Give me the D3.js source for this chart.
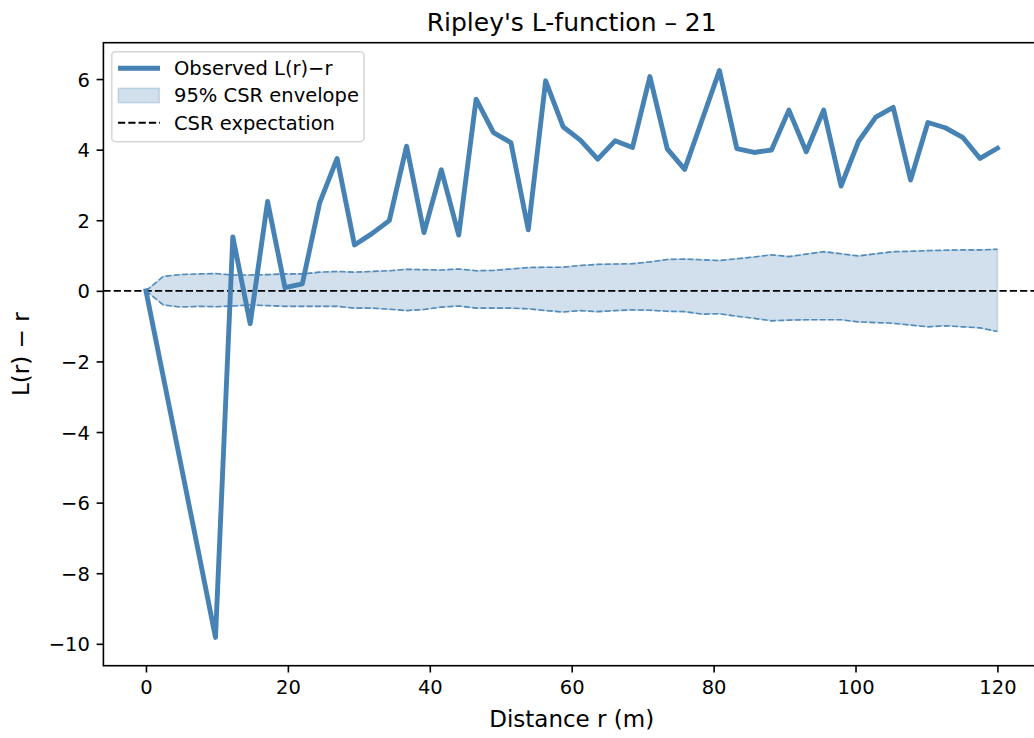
<!DOCTYPE html>
<html lang="en">
<head>
    <meta charset="UTF-8">
    <title>Ripley's L-function</title>
    <script src="https://d3js.org/d3.v7.min.js"></script>
    <style>
        body {background:#fff; margin:0}
        svg {display:block; font-family:"DejaVu Sans", sans-serif}
    </style>
</head>
<body>
<svg id="chart" width="1034" height="738"></svg>

<script>
// distance grid r (m), 50 steps from 0 to 120
var radii = [0, 2.45, 4.9, 7.35, 9.8, 12.24, 14.69, 17.14, 19.59, 22.04,
    24.49, 26.94, 29.39, 31.84, 34.29, 36.73, 39.18, 41.63, 44.08, 46.53,
    48.98, 51.43, 53.88, 56.33, 58.78, 61.22, 63.67, 66.12, 68.57, 71.02,
    73.47, 75.92, 78.37, 80.82, 83.27, 85.71, 88.16, 90.61, 93.06, 95.51,
    97.96, 100.41, 102.86, 105.31, 107.76, 110.2, 112.65, 115.1, 117.55, 120];

// observed L(r) - r
var observed = [0, -2.45, -4.9, -7.35, -9.82, 1.53, -0.93, 2.53, 0.09, 0.2,
    2.5, 3.75, 1.3, 1.62, 1.99, 4.1, 1.65, 3.43, 1.58, 5.43,
    4.48, 4.2, 1.73, 5.95, 4.65, 4.27, 3.73, 4.25, 4.06, 6.07,
    4.02, 3.44, 4.84, 6.24, 4.03, 3.92, 3.99, 5.12, 3.94, 5.12,
    2.97, 4.23, 4.92, 5.2, 3.14, 4.77, 4.62, 4.35, 3.75, 4.04];

// 95% CSR envelope
var envHigh = [0, 0.41, 0.46, 0.48, 0.49, 0.45, 0.45, 0.46, 0.48, 0.48,
    0.53, 0.55, 0.53, 0.55, 0.57, 0.61, 0.6, 0.59, 0.62, 0.57,
    0.58, 0.62, 0.66, 0.67, 0.67, 0.72, 0.75, 0.76, 0.77, 0.82,
    0.89, 0.9, 0.88, 0.86, 0.91, 0.96, 1.02, 0.97, 1.04, 1.11,
    1.05, 0.99, 1.05, 1.11, 1.12, 1.14, 1.15, 1.16, 1.16, 1.18];
var envLow = [0, -0.4, -0.46, -0.44, -0.45, -0.43, -0.4, -0.42, -0.44, -0.44,
    -0.44, -0.44, -0.49, -0.49, -0.52, -0.56, -0.53, -0.46, -0.43, -0.49,
    -0.49, -0.49, -0.51, -0.56, -0.6, -0.56, -0.59, -0.56, -0.54, -0.55,
    -0.58, -0.59, -0.66, -0.65, -0.72, -0.78, -0.85, -0.83, -0.82, -0.82,
    -0.82, -0.88, -0.9, -0.92, -0.97, -1.02, -0.99, -1.02, -1.05, -1.15];

var xTicks = [0, 20, 40, 60, 80, 100, 120];
var yTicks = [-10, -8, -6, -4, -2, 0, 2, 4, 6];
var legendLabels = ["Observed L(r)\u2212r", "95% CSR envelope", "CSR expectation"];

var blue = "#4682b4";
var plot = {left: 103.4, right: 1040, top: 42.7, bottom: 665.7};

var svg = d3.select("#chart");

var x = d3.scaleLinear().domain([-6, 126]).range([plot.left, plot.right]);
var y = d3.scaleLinear().domain([-10.62, 7.03]).range([plot.bottom, plot.top]);

svg.append("defs").append("clipPath").attr("id", "clip")
    .append("rect")
    .attr("x", plot.left).attr("y", plot.top)
    .attr("width", plot.right - plot.left).attr("height", plot.bottom - plot.top);

var rows = radii.map(function(r, i){
    return {r: r, obs: observed[i], hi: envHigh[i], lo: envLow[i]};
});

var g = svg.append("g").attr("clip-path", "url(#clip)");

// envelope fill
g.append("path")
    .datum(rows)
    .attr("d", d3.area()
        .x(function(d){ return x(d.r); })
        .y0(function(d){ return y(d.lo); })
        .y1(function(d){ return y(d.hi); }))
    .attr("fill", blue)
    .attr("fill-opacity", 0.25)
    .attr("stroke", blue)
    .attr("stroke-opacity", 0.25)
    .attr("stroke-width", 1.5);

// envelope edges
["hi", "lo"].forEach(function(k){
    g.append("path")
        .datum(rows)
        .attr("d", d3.line()
            .x(function(d){ return x(d.r); })
            .y(function(d){ return y(d[k]); }))
        .attr("fill", "none")
        .attr("stroke", blue)
        .attr("stroke-width", 1.6)
        .attr("stroke-dasharray", "5.8,2.5")
        .attr("opacity", 0.9);
});

// CSR expectation
g.append("line")
    .attr("x1", plot.left).attr("x2", plot.right)
    .attr("y1", y(0)).attr("y2", y(0))
    .attr("stroke", "#000")
    .attr("stroke-width", 1.9)
    .attr("stroke-dasharray", "7.2,3.1");

// observed curve
g.append("path")
    .datum(rows)
    .attr("d", d3.line()
        .x(function(d){ return x(d.r); })
        .y(function(d){ return y(d.obs); }))
    .attr("fill", "none")
    .attr("stroke", blue)
    .attr("stroke-width", 4.9)
    .attr("stroke-linejoin", "round")
    .attr("stroke-linecap", "square");

// axes
var xAxis = svg.append("g")
    .attr("transform", "translate(0," + plot.bottom + ")")
    .call(d3.axisBottom(x).tickValues(xTicks).tickSize(6.8).tickPadding(6.8).tickFormat(d3.format("d")));
var yAxis = svg.append("g")
    .attr("transform", "translate(" + plot.left + ",0)")
    .call(d3.axisLeft(y).tickValues(yTicks).tickSize(6.8).tickPadding(6.8)
        .tickFormat(function(d){ return d < 0 ? "\u2212" + Math.abs(d) : d; }));

[xAxis, yAxis].forEach(function(a){
    a.select(".domain").remove();
    a.selectAll(".tick line").attr("stroke", "#000").attr("stroke-width", 1.6);
    a.selectAll(".tick text").attr("fill", "#000").style("font-size", "19.5px")
        .style("font-family", "'DejaVu Sans', sans-serif");
});
xAxis.selectAll(".tick text").attr("dy", "0.76em");
yAxis.selectAll(".tick text").attr("dy", "0.36em");

// spines
svg.append("rect")
    .attr("x", plot.left).attr("y", plot.top)
    .attr("width", plot.right - plot.left).attr("height", plot.bottom - plot.top)
    .attr("fill", "none").attr("stroke", "#000").attr("stroke-width", 1.6);

// title and labels
svg.append("text")
    .attr("x", (plot.left + plot.right) / 2).attr("y", 31)
    .attr("text-anchor", "middle")
    .style("font-size", "25px")
    .text("Ripley's L-function \u2013 21");

svg.append("text")
    .attr("x", (plot.left + plot.right) / 2).attr("y", 727.3)
    .attr("text-anchor", "middle")
    .style("font-size", "23px")
    .text("Distance r (m)");

svg.append("text")
    .attr("transform", "translate(28.7," + ((plot.top + plot.bottom) / 2) + ") rotate(-90)")
    .attr("text-anchor", "middle")
    .style("font-size", "23px")
    .text("L(r) \u2212 r");

// legend
var legend = svg.append("g");
legend.append("rect")
    .attr("x", 111.7).attr("y", 51.7)
    .attr("width", 252.3).attr("height", 90)
    .attr("rx", 4).attr("ry", 4)
    .attr("fill", "#fff").attr("fill-opacity", 0.8)
    .attr("stroke", "#d6d6d6").attr("stroke-width", 1.6);

legend.append("line")
    .attr("x1", 118).attr("x2", 160).attr("y1", 68.3).attr("y2", 68.3)
    .attr("stroke", blue).attr("stroke-width", 4.9);
legend.append("rect")
    .attr("x", 118.3).attr("y", 88.3).attr("width", 41).attr("height", 14.4)
    .attr("fill", blue).attr("fill-opacity", 0.25)
    .attr("stroke", blue).attr("stroke-opacity", 0.25).attr("stroke-width", 1.5);
legend.append("line")
    .attr("x1", 118).attr("x2", 160).attr("y1", 122.7).attr("y2", 122.7)
    .attr("stroke", "#000").attr("stroke-width", 1.9).attr("stroke-dasharray", "7.2,3.1");

legend.selectAll("text.lbl")
    .data(legendLabels)
    .enter()
    .append("text")
    .attr("class", "lbl")
    .attr("x", 174)
    .attr("y", function(d, i){ return 75 + i * 27.3; })
    .style("font-size", "19.5px")
    .text(function(d){ return d; });
</script>
</body>
</html>
